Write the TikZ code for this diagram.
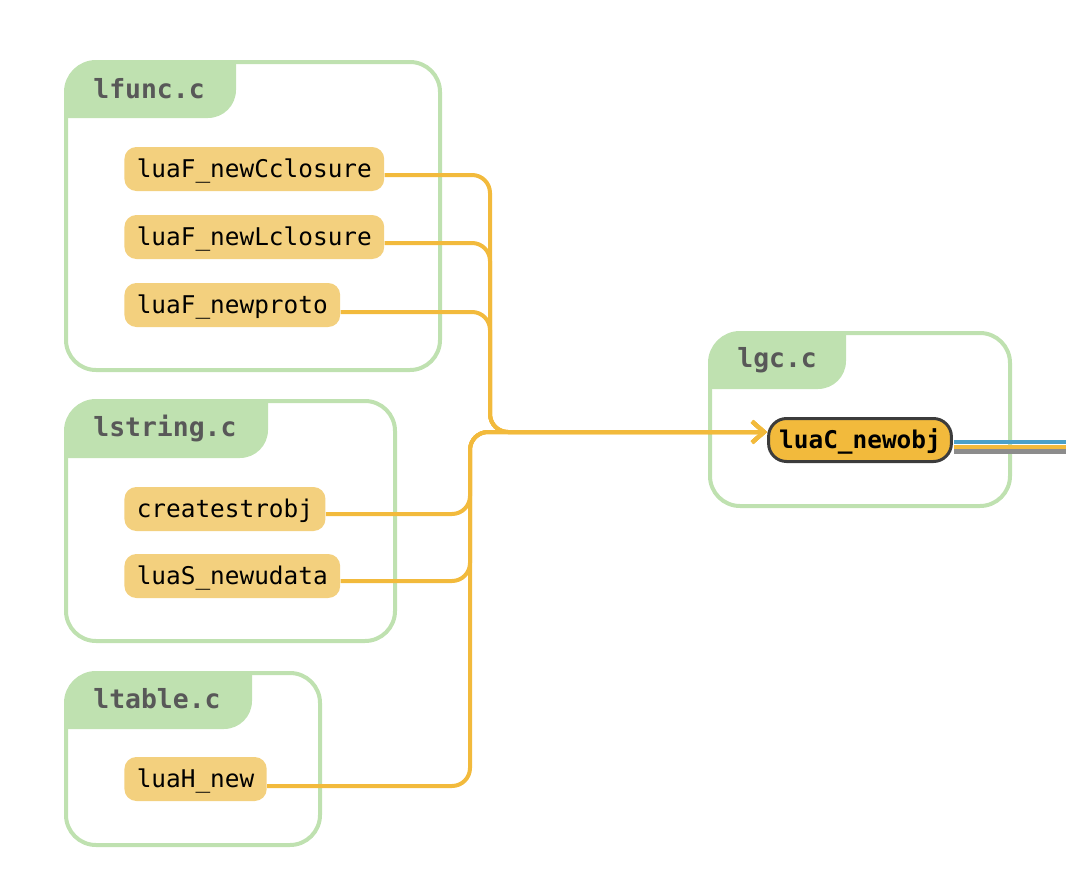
\documentclass[tikz,border=0pt]{standalone}
\usepackage{fontspec}
\setmonofont{DejaVu Sans Mono}
\usetikzlibrary{arrows.meta,positioning}
\definecolor{filegreen}{RGB}{191,225,176}
\definecolor{headgray}{RGB}{88,88,88}
\definecolor{funcfill}{RGB}{243,208,126}
\definecolor{edgeorange}{RGB}{242,186,60}
\definecolor{rimgray}{RGB}{60,60,60}
\definecolor{outblue}{RGB}{75,160,200}
\definecolor{outgray}{RGB}{140,140,140}

\begin{document}
\begin{tikzpicture}[x=0.5pt,y=-0.5pt,
  group/.style={draw=filegreen, line width=2pt, rounded corners=15pt},
  tab/.style={fill=filegreen, rounded corners=14pt},
  head/.style={anchor=west, inner sep=0pt, text=headgray, font=\ttfamily\bfseries\fontsize{13.2pt}{15pt}\selectfont},
  func/.style={anchor=west, fill=funcfill, rounded corners=6pt, minimum height=22pt, inner xsep=6.2pt, inner ysep=0pt, text height=10pt, text depth=2pt, font=\ttfamily\fontsize{12.2pt}{14pt}\selectfont},
  target/.style={func, anchor=center, fill=edgeorange, draw=rimgray, line width=1.5pt, rounded corners=9pt, minimum height=21.5pt, inner xsep=5.3pt, font=\ttfamily\bfseries\fontsize{12.2pt}{14pt}\selectfont},
  link/.style={draw=edgeorange, line width=2pt, rounded corners=9pt, -{Straight Barb[length=6pt,width=10.5pt]}},
  outline/.style={line width=2.2pt}]
  \useasboundingbox (0,0) rectangle (1066,894);

  % File boxes
  \begin{scope}
    \clip[rounded corners=15pt] (66,62) rectangle (440,370);
    \fill[tab] (30,30) rectangle (236,118);
  \end{scope}
  \draw[group] (66,62) rectangle (440,370);
  \node[head] (lfunc) at (93,89) {lfunc.c};

  \begin{scope}
    \clip[rounded corners=15pt] (66,401) rectangle (395,641);
    \fill[tab] (30,370) rectangle (268,458);
  \end{scope}
  \draw[group] (66,401) rectangle (395,641);
  \node[head] (lstring) at (93,428) {lstring.c};

  \begin{scope}
    \clip[rounded corners=15pt] (66,673) rectangle (320,845);
    \fill[tab] (30,640) rectangle (252,729);
  \end{scope}
  \draw[group] (66,673) rectangle (320,845);
  \node[head] (ltable) at (93,699) {ltable.c};

  \begin{scope}
    \clip[rounded corners=15pt] (710,333) rectangle (1010,506);
    \fill[tab] (680,300) rectangle (846,389);
  \end{scope}
  \draw[group] (710,333) rectangle (1010,506);
  \node[head] (lgc) at (737,360) {lgc.c};

  % Define nodes
  \node[func] (newcclosure) at (124,169) {luaF\_newCclosure};
  \node[func] (newlclosure) at (124,237) {luaF\_newLclosure};
  \node[func] (newproto) at (124,305) {luaF\_newproto};
  \node[func] (createstrobj) at (124,509) {createstrobj};
  \node[func] (newudata) at (124,576) {luaS\_newudata};
  \node[func] (newtable) at (124,779) {luaH\_new};
  \node[target] (newobj) at (860,440) {luaC\_newobj};

  \coordinate (upjoin) at (490,432);
  \coordinate (lowjoin) at (470,432);
  \coordinate (exit) at (1066,440);

  % Draw edges
  \draw[link] ([yshift=-3pt]newcclosure.east) -| (upjoin) -- ([yshift=4pt]newobj.west);
  \draw[link] ([yshift=-3pt]newlclosure.east) -| (upjoin) -- ([yshift=4pt]newobj.west);
  \draw[link] ([yshift=-3.5pt]newproto.east) -| (upjoin) -- ([yshift=4pt]newobj.west);
  \draw[link] ([yshift=-2.5pt]createstrobj.east) -| (lowjoin) -- ([yshift=4pt]newobj.west);
  \draw[link] ([yshift=-2.5pt]newudata.east) -| (lowjoin) -- ([yshift=4pt]newobj.west);
  \draw[link] ([yshift=-3.5pt]newtable.east) -| (lowjoin) -- ([yshift=4pt]newobj.west);

  \draw[outline, outgray] ([xshift=0.75pt,yshift=-5.65pt]newobj.east) -- ([yshift=-5.65pt]exit);
  \draw[outline, edgeorange] ([xshift=0.75pt,yshift=-3.35pt]newobj.east) -- ([yshift=-3.35pt]exit);
  \draw[outline, outblue] ([xshift=0.75pt,yshift=-1pt]newobj.east) -- ([yshift=-1pt]exit);
\end{tikzpicture}
\end{document}
